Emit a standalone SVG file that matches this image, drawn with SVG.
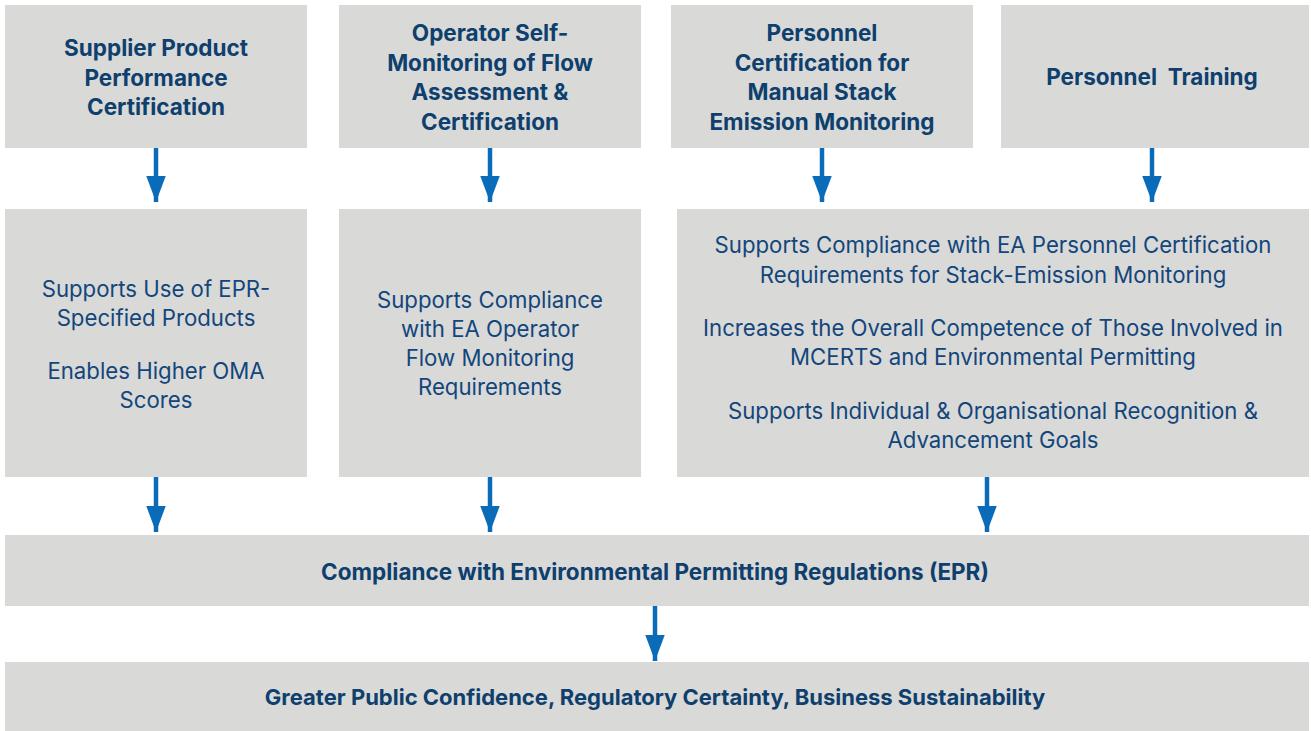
<svg xmlns="http://www.w3.org/2000/svg" width="1311" height="731" viewBox="0 0 1311 731">
<defs>
<style>
.box{fill:#d9d9d8}
.t{font-family:Inter,Roboto,"Liberation Sans",sans-serif;font-size:22.5px;font-weight:700;fill:#0e3f6d;text-anchor:middle}
.b{font-family:Inter,Roboto,"Liberation Sans",sans-serif;font-size:22.2px;font-weight:400;fill:#12467b;text-anchor:middle}
.sh{stroke:#0a6cb8;stroke-width:4.5;fill:none}
.hd{fill:#0a6cb8}
</style>
<marker id="ah" markerUnits="userSpaceOnUse" markerWidth="26" markerHeight="20" refX="24" refY="9" orient="auto" viewBox="0 0 24 18">
<path d="M0,0 L24,9 L0,18 Z" class="hd"/>
</marker>
</defs>
<rect width="1311" height="731" fill="#ffffff"/>
<g id="n1">
<rect class="box" x="5" y="5" width="302" height="143"/>
<text class="t" x="156" y="56">Supplier Product</text>
<text class="t" x="156" y="85.5">Performance</text>
<text class="t" x="156" y="115">Certification</text>
</g>
<g id="n2">
<rect class="box" x="339" y="5" width="302" height="143"/>
<text class="t" x="490" y="41">Operator Self-</text>
<text class="t" x="490" y="70.5">Monitoring of Flow</text>
<text class="t" x="490" y="100">Assessment &amp;</text>
<text class="t" x="490" y="129.5">Certification</text>
</g>
<g id="n3">
<rect class="box" x="671" y="5" width="302" height="143"/>
<text class="t" x="822" y="41">Personnel</text>
<text class="t" x="822" y="70.5">Certification for</text>
<text class="t" x="822" y="100">Manual Stack</text>
<text class="t" x="822" y="129.5">Emission Monitoring</text>
</g>
<g id="n4">
<rect class="box" x="1001" y="5" width="308" height="143"/>
<text class="t" x="1152" y="85" xml:space="preserve">Personnel  Training</text>
</g>
<g id="n5">
<rect class="box" x="5" y="209" width="302" height="268"/>
<text class="b" x="156" y="297">Supports Use of EPR-</text>
<text class="b" x="156" y="326">Specified Products</text>
<text class="b" x="156" y="379">Enables Higher OMA</text>
<text class="b" x="156" y="408">Scores</text>
</g>
<g id="n6">
<rect class="box" x="339" y="209" width="302" height="268"/>
<text class="b" x="490" y="308">Supports Compliance</text>
<text class="b" x="490" y="337">with EA Operator</text>
<text class="b" x="490" y="366">Flow Monitoring</text>
<text class="b" x="490" y="395">Requirements</text>
</g>
<g id="n7">
<rect class="box" x="677" y="209" width="632" height="268"/>
<text class="b" x="993" y="253">Supports Compliance with EA Personnel Certification</text>
<text class="b" x="993" y="283">Requirements for Stack-Emission Monitoring</text>
<text class="b" x="993" y="336">Increases the Overall Competence of Those Involved in</text>
<text class="b" x="993" y="365">MCERTS and Environmental Permitting</text>
<text class="b" x="993" y="419">Supports Individual &amp; Organisational Recognition &amp;</text>
<text class="b" x="993" y="448">Advancement Goals</text>
</g>
<g id="n8">
<rect class="box" x="5" y="535" width="1304" height="71"/>
<text class="t" x="655" y="580">Compliance with Environmental Permitting Regulations (EPR)</text>
</g>
<g id="n9">
<rect class="box" x="5" y="662" width="1304" height="69"/>
<text class="t" x="655" y="705" style="font-size:22px">Greater Public Confidence, Regulatory Certainty, Business Sustainability</text>
</g>
<g id="connectors">
<line class="sh" x1="156" y1="148" x2="156" y2="202" marker-end="url(#ah)"/>
<line class="sh" x1="490" y1="148" x2="490" y2="202" marker-end="url(#ah)"/>
<line class="sh" x1="822" y1="148" x2="822" y2="202" marker-end="url(#ah)"/>
<line class="sh" x1="1152" y1="148" x2="1152" y2="202" marker-end="url(#ah)"/>
<line class="sh" x1="156" y1="477" x2="156" y2="532" marker-end="url(#ah)"/>
<line class="sh" x1="490" y1="477" x2="490" y2="532" marker-end="url(#ah)"/>
<line class="sh" x1="987" y1="477" x2="987" y2="532" marker-end="url(#ah)"/>
<line class="sh" x1="655" y1="606" x2="655" y2="661" marker-end="url(#ah)"/>
</g>
</svg>
